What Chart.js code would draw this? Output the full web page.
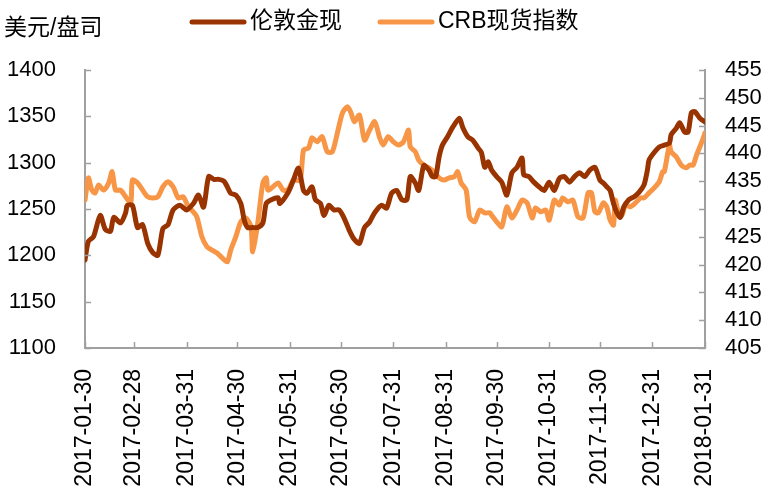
<!DOCTYPE html>
<html>
<head>
<meta charset="utf-8">
<script src="https://cdn.jsdelivr.net/npm/chart.js@4.4.0/dist/chart.umd.min.js"></script>
<style>
  html, body { margin: 0; padding: 0; background: #fff; }
  #wrap { position: relative; width: 769px; height: 489px; }
</style>
</head>
<body>
<div id="wrap"><canvas id="chart"></canvas></div>
<script>
// x positions are days counted from 2017-01-30
const seriesNames = ['伦敦金现', 'CRB现货指数'];
const unitLabel = '美元/盘司';

const tickDays = [0, 29, 60, 90, 121, 151, 182, 213, 243, 274, 304, 335, 366];
const tickLabels = ['2017-01-30', '2017-02-28', '2017-03-31', '2017-04-30', '2017-05-31', '2017-06-30',
  '2017-07-31', '2017-08-31', '2017-09-30', '2017-10-31', '2017-11-30', '2017-12-31', '2018-01-31'];

const goldDays = [0, 2, 5, 9, 12, 15, 17, 21, 24, 25, 28, 31, 34, 37, 40, 43, 46, 49, 52, 56,
  60, 64, 67, 70, 73, 76, 79, 82, 84, 86, 89, 92, 94, 96, 99, 102, 105, 107, 110, 114,
  115, 120, 123, 126, 129, 131, 134, 136, 139, 141, 144, 147, 150, 153, 156, 159, 162, 165, 168, 171,
  175, 178, 181, 184, 187, 190, 192, 195, 197, 200, 203, 205, 207, 209, 211, 214, 217, 221, 223, 226,
  229, 232, 234, 236, 238, 240, 243, 246, 249, 252, 255, 258, 259, 262, 265, 268, 271, 274, 277, 280,
  283, 286, 289, 292, 295, 298, 301, 304, 306, 308, 310, 312, 314, 316, 318, 321, 324, 327, 330, 332,
  333, 336, 339, 342, 345, 346, 349, 351, 354, 356, 358, 360, 363, 366];
const goldValues = [1195, 1215, 1220, 1243, 1228, 1226, 1241, 1235, 1246, 1254, 1254, 1230, 1233, 1213, 1203, 1200, 1229, 1233, 1249, 1254,
  1249, 1256, 1265, 1252, 1285, 1282, 1282, 1280, 1274, 1267, 1265, 1256, 1238, 1230, 1230, 1230, 1235, 1256, 1260, 1262,
  1256, 1268, 1281, 1294, 1270, 1267, 1274, 1260, 1256, 1243, 1254, 1249, 1249, 1240, 1227, 1217, 1213, 1230, 1236, 1246,
  1254, 1251, 1267, 1270, 1260, 1260, 1285, 1278, 1270, 1297, 1292, 1285, 1285, 1306, 1319, 1328, 1338, 1348, 1338, 1328,
  1324, 1316, 1311, 1295, 1301, 1292, 1285, 1279, 1265, 1289, 1295, 1305, 1287, 1285, 1279, 1274, 1270, 1279, 1270, 1283,
  1285, 1279, 1285, 1289, 1285, 1292, 1295, 1281, 1278, 1274, 1270, 1256, 1246, 1241, 1252, 1260, 1263, 1268, 1276, 1292,
  1303, 1311, 1317, 1319, 1321, 1330, 1337, 1343, 1333, 1333, 1354, 1355, 1348, 1344];

const crbDays = [0, 2, 4, 6, 8, 11, 14, 16, 18, 21, 24, 27, 28, 31, 34, 37, 40, 43, 46, 49,
  52, 55, 58, 61, 63, 66, 69, 72, 75, 78, 81, 84, 86, 89, 92, 95, 98, 99, 102, 105,
  107, 108, 111, 114, 117, 120, 123, 127, 129, 132, 134, 137, 140, 143, 146, 149, 152, 155, 157, 159,
  162, 165, 168, 171, 174, 176, 179, 182, 185, 188, 191, 192, 195, 197, 200, 203, 206, 209, 212, 215,
  218, 220, 222, 225, 227, 230, 233, 236, 239, 240, 243, 246, 249, 252, 255, 258, 261, 264, 266, 269,
  272, 274, 277, 280, 282, 285, 288, 291, 294, 297, 299, 301, 303, 306, 308, 310, 312, 313, 315, 317,
  319, 322, 325, 328, 330, 333, 336, 339, 341, 342, 345, 346, 349, 352, 355, 357, 359, 361, 363, 365, 366];
const crbValues = [431.6, 435.6, 433.4, 432.9, 434.3, 433.4, 434.7, 436.7, 433.4, 433.4, 432.2, 431.1, 435.2, 434.7, 433.4, 432.2, 432.0, 432.2, 434.0, 434.9,
  434.0, 432.0, 432.2, 430.4, 429.8, 428.6, 425.0, 423.2, 422.6, 422.1, 421.2, 420.5, 422.6, 425.0, 427.7, 428.4, 426.8, 422.3, 427.5, 434.7,
  435.6, 433.4, 434.0, 434.7, 433.4, 433.5, 435.2, 435.2, 440.6, 441.0, 442.8, 442.1, 443.0, 440.3, 440.3, 443.7, 447.3, 448.4, 447.3, 445.7,
  446.9, 442.4, 444.2, 445.7, 442.8, 441.5, 443.0, 442.1, 441.5, 442.1, 444.2, 441.2, 440.3, 438.8, 437.9, 437.4, 436.7, 435.6, 435.2, 435.6,
  435.8, 436.7, 434.7, 433.4, 428.6, 427.7, 429.8, 429.3, 429.3, 428.9, 427.7, 426.8, 430.4, 428.4, 429.8, 431.6, 431.1, 428.4, 430.2, 429.5,
  429.8, 428.0, 431.6, 430.7, 432.0, 431.3, 431.6, 428.6, 428.4, 432.9, 432.9, 429.5, 429.3, 431.1, 430.4, 428.0, 427.1, 431.6, 429.3, 428.9,
  430.7, 430.4, 431.1, 432.0, 432.0, 432.9, 433.8, 434.9, 436.7, 436.7, 441.5, 440.3, 439.4, 437.9, 437.4, 437.9, 437.9, 439.7, 441.2, 442.8, 443.7];

const goldColor = '#993300';
const crbColor = '#F79646';
const axisColor = '#a0a0a0';
const numFont = "'Liberation Sans', Arial, sans-serif";
const cjkFont = "'Liberation Sans', 'Noto Sans CJK SC', sans-serif";

const toPoints = (days, values) => days.map((d, i) => ({ x: d, y: values[i] }));

// legend, unit label and inward tick marks
const decorations = {
  id: 'decorations',
  afterDraw(chart) {
    const { ctx, chartArea, scales } = chart;
    ctx.save();
    ctx.strokeStyle = axisColor;
    ctx.lineWidth = 1.5;
    ctx.beginPath();
    tickDays.forEach(d => {
      const px = Math.round(scales.x.getPixelForValue(d)) + 0.5;
      ctx.moveTo(px, chartArea.bottom);
      ctx.lineTo(px, chartArea.bottom - 6);
    });
    scales.y.ticks.forEach(t => {
      const py = Math.round(scales.y.getPixelForValue(t.value)) + 0.5;
      ctx.moveTo(chartArea.left, py);
      ctx.lineTo(chartArea.left + 6, py);
    });
    scales.y1.ticks.forEach(t => {
      const py = Math.round(scales.y1.getPixelForValue(t.value)) + 0.5;
      ctx.moveTo(chartArea.right, py);
      ctx.lineTo(chartArea.right - 6, py);
    });
    ctx.stroke();

    ctx.fillStyle = '#000';
    ctx.textBaseline = 'middle';
    ctx.font = "23px " + cjkFont;
    ctx.fillText(unitLabel, 4, 29);

    const legendX = [190, 378];
    chart.data.datasets.forEach((ds, i) => {
      const x0 = legendX[i];
      ctx.strokeStyle = ds.borderColor;
      ctx.lineWidth = 5;
      ctx.lineCap = 'round';
      ctx.beginPath();
      ctx.moveTo(x0 + 2, 22);
      ctx.lineTo(x0 + 54, 22);
      ctx.stroke();
      ctx.fillText(ds.label, x0 + 60, 22);
    });
    ctx.restore();
  }
};

new Chart(document.getElementById('chart'), {
  type: 'line',
  data: {
    datasets: [
      {
        label: seriesNames[0],
        data: toPoints(goldDays, goldValues),
        borderColor: goldColor,
        backgroundColor: goldColor,
        borderWidth: 5,
        pointRadius: 0,
        tension: 0.25,
        borderJoinStyle: 'round',
        borderCapStyle: 'round',
        yAxisID: 'y'
      },
      {
        label: seriesNames[1],
        data: toPoints(crbDays, crbValues),
        borderColor: crbColor,
        backgroundColor: crbColor,
        borderWidth: 5,
        pointRadius: 0,
        tension: 0.25,
        borderJoinStyle: 'round',
        borderCapStyle: 'round',
        yAxisID: 'y1'
      }
    ]
  },
  options: {
    responsive: true,
    maintainAspectRatio: false,
    animation: false,
    layout: { padding: { top: 70, left: 0, right: 0, bottom: 0 } },
    plugins: {
      legend: { display: false },
      tooltip: { enabled: false }
    },
    scales: {
      x: {
        type: 'linear',
        min: 0,
        max: 366,
        afterBuildTicks: (axis) => { axis.ticks = tickDays.map(v => ({ value: v })); },
        afterFit: (scale) => { scale.height = 141; },
        grid: { display: false },
        border: { display: true, color: axisColor, width: 2 },
        ticks: {
          autoSkip: false,
          minRotation: 90,
          maxRotation: 90,
          padding: 13,
          color: '#000',
          font: { family: numFont, size: 23 },
          callback: (value) => tickLabels[tickDays.indexOf(value)]
        }
      },
      y: {
        position: 'left',
        min: 1100,
        max: 1400,
        afterFit: (scale) => { scale.width = 85; },
        grid: { display: false },
        border: { display: true, color: axisColor, width: 2 },
        ticks: {
          stepSize: 50,
          autoSkip: false,
          padding: 21,
          color: '#000',
          font: { family: numFont, size: 22 },
          callback: (value) => String(value)
        }
      },
      y1: {
        position: 'right',
        min: 405,
        max: 455,
        afterFit: (scale) => { scale.width = 64; },
        grid: { display: false },
        border: { display: true, color: axisColor, width: 2 },
        ticks: {
          stepSize: 5,
          autoSkip: false,
          padding: 12,
          color: '#000',
          font: { family: numFont, size: 22 },
          callback: (value) => String(value)
        }
      }
    }
  },
  plugins: [decorations]
});
</script>
</body>
</html>
